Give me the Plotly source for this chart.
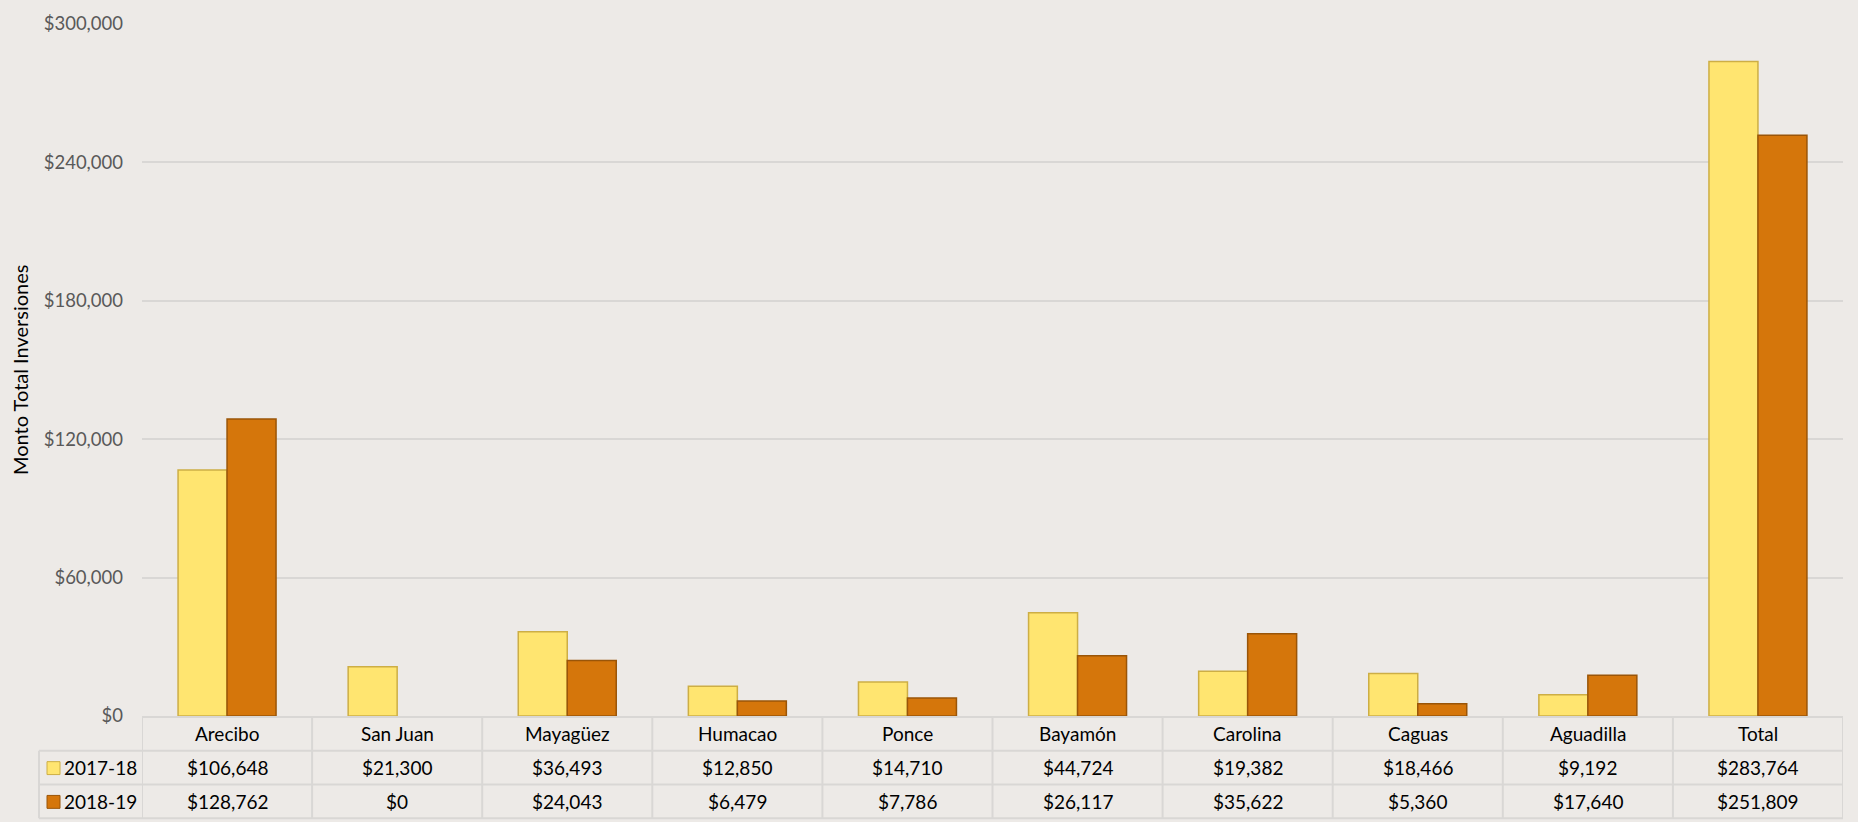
import plotly.graph_objects as go

categories = ["Arecibo", "San Juan", "Mayagüez", "Humacao", "Ponce",
              "Bayamón", "Carolina", "Caguas", "Aguadilla", "Total"]
series_names = ["2017-18", "2018-19"]
values_2017_18 = [106648, 21300, 36493, 12850, 14710, 44724, 19382, 18466, 9192, 283764]
values_2018_19 = [128762, 0, 24043, 6479, 7786, 26117, 35622, 5360, 17640, 251809]
y_tick_values = [0, 60000, 120000, 180000, 240000, 300000]
y_title = "Monto Total Inversiones"

W, H = 1858, 822
L, R, T, B = 142, 15, 19, 106
PW, PH = W - L - R, H - T - B
BASE = H - B  # pixel row of the zero line


def px_x(px):
    return (px - L) / PW


def px_y(py):
    return (BASE - py) / PH


def money(v):
    return "${:,.0f}".format(v)


FONT = "Lato"
TXT = 19
BG = "#EDEAE7"
GRID = "#D9D7D5"
fills = ["#FFE570", "#D5760B"]
edges = ["#CDAE45", "#9A5508"]

fig = go.Figure()
for name, vals, fc, ec in zip(series_names, [values_2017_18, values_2018_19], fills, edges):
    fig.add_trace(go.Bar(
        x=categories, y=vals, name=name,
        marker=dict(color=fc, line=dict(color=ec, width=[1.5 if v > 0 else 0 for v in vals])),
        showlegend=False, hoverinfo="x+y",
    ))

# table rows (pixel positions)
row_edges = [717, 751, 785, 819]
row_centers = [(row_edges[i] + row_edges[i + 1]) / 2 for i in range(3)]
shapes = []
annotations = []
line_style = dict(color=GRID, width=2)

# horizontal lines
shapes.append(dict(type="line", xref="paper", yref="paper",
                   x0=px_x(L), x1=px_x(L + PW), y0=px_y(row_edges[0]), y1=px_y(row_edges[0]), line=line_style))
for e in row_edges[1:]:
    shapes.append(dict(type="line", xref="paper", yref="paper",
                       x0=px_x(39), x1=px_x(L + PW), y0=px_y(e), y1=px_y(e), line=line_style))
# vertical lines at category boundaries
for i in range(len(categories) + 1):
    shapes.append(dict(type="line", xref="x", yref="paper",
                       x0=i - 0.5, x1=i - 0.5, y0=px_y(row_edges[0]), y1=px_y(row_edges[-1]), line=line_style))
shapes.append(dict(type="line", xref="paper", yref="paper",
                   x0=px_x(39), x1=px_x(39), y0=px_y(row_edges[1]), y1=px_y(row_edges[-1]), line=line_style))

# header: category names
for i, c in enumerate(categories):
    annotations.append(dict(x=i, y=px_y(row_centers[0]), xref="x", yref="paper", text=c,
                            showarrow=False, font=dict(family=FONT, size=TXT, color="#000000"),
                            xanchor="center", yanchor="middle"))
# value rows
for r, (name, vals) in enumerate(zip(series_names, [values_2017_18, values_2018_19])):
    yc = px_y(row_centers[r + 1])
    for i, v in enumerate(vals):
        annotations.append(dict(x=i, y=yc, xref="x", yref="paper", text=money(v),
                                showarrow=False, font=dict(family=FONT, size=TXT, color="#000000"),
                                xanchor="center", yanchor="middle"))
    annotations.append(dict(x=px_x(62), y=yc, xref="paper", yref="paper", text=name,
                            showarrow=False, font=dict(family=FONT, size=TXT, color="#000000"),
                            xanchor="left", yanchor="middle"))
    shapes.append(dict(type="rect", xref="paper", yref="paper",
                       x0=px_x(47), x1=px_x(60),
                       y0=px_y(row_centers[r + 1] - 6), y1=px_y(row_centers[r + 1] + 7),
                       fillcolor=fills[r], line=dict(color=edges[r], width=1)))

# y-axis title
annotations.append(dict(x=px_x(20), y=0.5, xref="paper", yref="paper", text=y_title, textangle=-90,
                        showarrow=False, font=dict(family=FONT, size=20, color="#000000"),
                        xanchor="center", yanchor="middle"))

fig.update_layout(
    width=W, height=H, autosize=False,
    margin=dict(l=L, r=R, t=T, b=B, pad=0),
    paper_bgcolor=BG, plot_bgcolor=BG,
    barmode="group", bargap=0.424, bargroupgap=0,
    font=dict(family=FONT, size=TXT, color="#595959"),
    shapes=shapes, annotations=annotations,
    xaxis=dict(range=[-0.5, len(categories) - 0.5], showticklabels=False, showgrid=False,
               zeroline=False, showline=False, ticks="", fixedrange=True),
    yaxis=dict(range=[0, 300000], tickmode="array", tickvals=y_tick_values,
               ticktext=[money(v) for v in y_tick_values],
               showgrid=True, gridcolor=GRID, gridwidth=2, zeroline=False, showline=False,
               ticks="", ticklabelstandoff=18,
               tickfont=dict(family=FONT, size=18.5, color="#595959")),
)

fig.write_html("out.html")
